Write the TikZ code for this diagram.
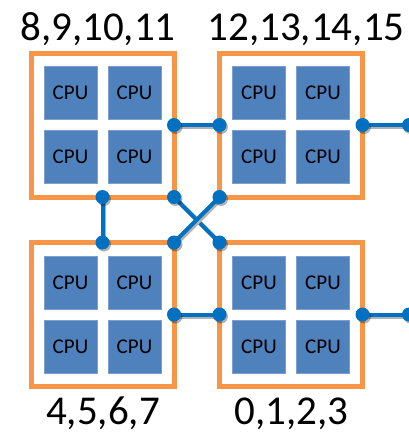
\documentclass[tikz,border=0pt]{standalone}
\usepackage{fontspec}
\setmainfont{Carlito}
\usetikzlibrary{shadows,backgrounds}
\definecolor{boxorange}{HTML}{F79646}
\definecolor{cpublue}{HTML}{4F81BD}
\definecolor{linkblue}{HTML}{0070C0}
\tikzset{
  socket/.style={draw=boxorange,line width=5pt,minimum width=143pt,minimum height=144pt,inner sep=0pt,outer sep=0pt},
  cpu/.style={fill=cpublue,draw=cpublue!75!white,line width=0.6pt,minimum size=53pt,inner sep=0pt,font=\fontsize{21}{21}\selectfont},
  port/.style={circle,fill=linkblue,minimum size=14pt,inner sep=0pt,drop shadow={shadow xshift=1.5pt,shadow yshift=-2pt,fill=black,opacity=0.3}},
  link/.style={draw=linkblue,line width=4pt,preaction={draw=black!30,line width=4pt,transform canvas={shift={(1.5pt,-2pt)}}}},
  nums/.style={font=\fontsize{41}{41}\selectfont,anchor=base,inner sep=0pt}
}
\begin{document}
\begin{tikzpicture}[x=1pt,y=-1pt]
        \useasboundingbox (0,0) rectangle (409,437);
        % Sockets
        \node[socket] (n8) at (102.5,125) {};
        \node[socket] (n12) at (291,125) {};
        \node[socket] (n4) at (102.5,314.5) {};
        \node[socket] (n0) at (291,314.5) {};
        % CPUs
        \node[cpu] (c8a) at (70.5,93) {CPU};
        \node[cpu] (c8b) at (134.5,93) {CPU};
        \node[cpu] (c8c) at (70.5,157) {CPU};
        \node[cpu] (c8d) at (134.5,157) {CPU};
        \node[cpu] (c12a) at (259,93) {CPU};
        \node[cpu] (c12b) at (323,93) {CPU};
        \node[cpu] (c12c) at (259,157) {CPU};
        \node[cpu] (c12d) at (323,157) {CPU};
        \node[cpu] (c4a) at (70.5,282.5) {CPU};
        \node[cpu] (c4b) at (134.5,282.5) {CPU};
        \node[cpu] (c4c) at (70.5,346.5) {CPU};
        \node[cpu] (c4d) at (134.5,346.5) {CPU};
        \node[cpu] (c0a) at (259,282.5) {CPU};
        \node[cpu] (c0b) at (323,282.5) {CPU};
        \node[cpu] (c0c) at (259,346.5) {CPU};
        \node[cpu] (c0d) at (323,346.5) {CPU};
        % Ports
        \node[port] (p8e) at (n8.east) {};
        \node[port] (p8s) at (n8.south) {};
        \node[port] (p8c) at (n8.south east) {};
        \node[port] (p12w) at (n12.west) {};
        \node[port] (p12e) at (n12.east) {};
        \node[port] (p12c) at (n12.south west) {};
        \node[port] (p4n) at (n4.north) {};
        \node[port] (p4c) at (n4.north east) {};
        \node[port] (p4e) at (n4.east) {};
        \node[port] (p0c) at (n0.north west) {};
        \node[port] (p0w) at (n0.west) {};
        \node[port] (p0e) at (n0.east) {};
        \node[port] (q12) at (409,125) {};
        \node[port] (q0) at (409,314.5) {};
        % Links
        \begin{scope}[on background layer]
        \draw[link] (p8e.center) -- (p12w.center);
        \draw[link] (p8s.center) -- (p4n.center);
        \draw[link] (p8c.center) -- (p0c.center);
        \draw[link] (p12c.center) -- (p4c.center);
        \draw[link] (p4e.center) -- (p0w.center);
        \draw[link] (p12e.center) -- (q12.center);
        \draw[link] (p0e.center) -- (q0.center);
        \end{scope}
        % Core numbers
        \node[nums] (t8) at (98,40) {8,9,10,11};
        \node[nums] (t12) at (306,40) {12,13,14,15};
        \node[nums] (t4) at (103,424) {4,5,6,7};
        \node[nums] (t0) at (291.5,424) {0,1,2,3};
\end{tikzpicture}
\end{document}
